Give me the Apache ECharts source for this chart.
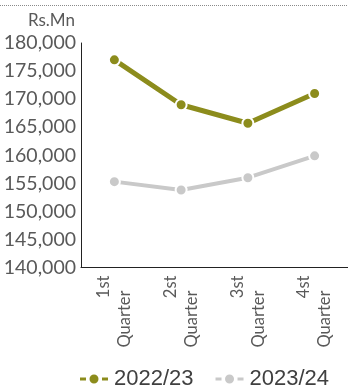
<!DOCTYPE html>
<html>
<head>
<meta charset="utf-8">
<script src="https://cdn.jsdelivr.net/npm/echarts@6/dist/echarts.min.js"></script>
<style>
  html, body { margin: 0; padding: 0; background: #fff; }
  #chart { width: 348px; height: 385px; }
</style>
</head>
<body>
<div id="chart"></div>
<script>
// Quarterly figures, Rs. million
const quarters = ['1st Quarter', '2st Quarter', '3st Quarter', '4st Quarter'];
const fy2223 = [177000, 169000, 165700, 171000];
const fy2324 = [155300, 153800, 156000, 159900];
const seriesNames = ['2022/23', '2023/24'];
const yTicks = { min: 140000, max: 180000, step: 5000 };

const FONT = 'Lato';
const TEXT = '#595959';
const GREEN = '#8c8c1c';
const GREY = '#c9c9c9';

const chart = echarts.init(document.getElementById('chart'));

const legendIcon = 'path://M0,2.5h8v5h-8z M9.5,5a5.5,5.5 0 1,0 11,0a5.5,5.5 0 1,0 -11,0z M22,2.5h8v5h-8z';

chart.setOption({
  animation: false,
  textStyle: { fontFamily: FONT },
  graphic: [{
    type: 'line',
    shape: { x1: 0, y1: 5.5, x2: 348, y2: 5.5 },
    style: { stroke: '#8a8a8a', lineWidth: 1, lineDash: [1, 1] }
  }],
  grid: { left: 81, right: -4, top: 43, bottom: 117.5, containLabel: false },
  xAxis: {
    type: 'category',
    data: quarters,
    boundaryGap: true,
    axisLine: { lineStyle: { color: '#222', width: 1 } },
    axisTick: { show: false },
    axisLabel: {
      interval: 0,
      rotate: 90,
      margin: 8,
      color: TEXT,
      fontFamily: FONT,
      fontSize: 16.5,
      lineHeight: 21,
      formatter: v => {
        const [a, b] = v.split(' ');
        return '{a|' + a + '}\n{q|' + b + '}';
      },
      rich: {
        a: { fontSize: 16.5, fontFamily: FONT, color: TEXT, lineHeight: 21 },
        q: { fontSize: 16.5, fontFamily: FONT, color: TEXT, lineHeight: 21, padding: [0, 15, 0, 0] }
      }
    }
  },
  yAxis: {
    type: 'value',
    min: yTicks.min,
    max: yTicks.max,
    interval: yTicks.step,
    name: 'Rs.Mn',
    nameLocation: 'end',
    nameGap: 14,
    nameTextStyle: { color: TEXT, fontFamily: FONT, fontSize: 17, align: 'right', padding: [0, 6, 0, 0] },
    axisLine: { show: true, lineStyle: { color: '#222', width: 1 } },
    axisTick: { show: false },
    splitLine: { show: false },
    axisLabel: {
      margin: 5,
      color: TEXT,
      fontFamily: FONT,
      fontSize: 19.5,
      formatter: v => v.toLocaleString('en-US')
    }
  },
  legend: {
    data: seriesNames,
    left: 73,
    top: 363,
    itemWidth: 30,
    itemHeight: 11,
    itemGap: 20,
    icon: legendIcon,
    textStyle: { color: '#404040', fontFamily: 'Liberation Sans', fontSize: 22, padding: [0, 0, 0, 0] }
  },
  series: [
    {
      name: seriesNames[0],
      type: 'line',
      data: fy2223,
      symbol: 'circle',
      symbolSize: 11,
      itemStyle: { color: GREEN, borderColor: '#fff', borderWidth: 2 },
      lineStyle: { color: GREEN, width: 5 }
    },
    {
      name: seriesNames[1],
      type: 'line',
      data: fy2324,
      symbol: 'circle',
      symbolSize: 11,
      itemStyle: { color: GREY, borderColor: '#fff', borderWidth: 2 },
      lineStyle: { color: GREY, width: 4 }
    }
  ]
});
</script>
</body>
</html>
